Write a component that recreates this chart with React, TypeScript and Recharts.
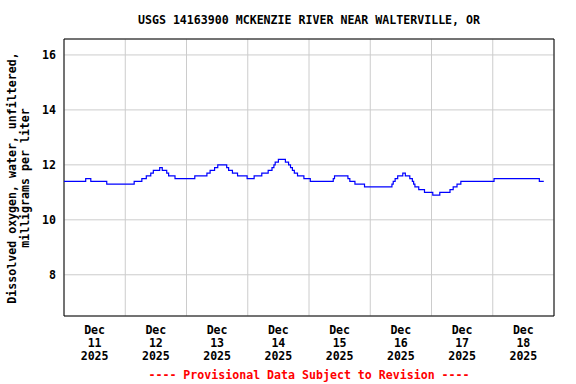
import React from 'react';
import { LineChart, Line, XAxis, YAxis, CartesianGrid, ReferenceArea } from 'recharts';

const TITLE = 'USGS 14163900 MCKENZIE RIVER NEAR WALTERVILLE, OR';
const Y_LABEL_1 = 'Dissolved oxygen, water, unfiltered,';
const Y_LABEL_2 = 'milligrams per liter';
const FOOTER = '---- Provisional Data Subject to Revision ----';

const MONTH = 'Dec';
const YEAR = '2025';
const dayLabels = ['11', '12', '13', '14', '15', '16', '17', '18'];
// hours since Dec 11 00:00
const dayBounds = [0, 24, 48, 72, 96, 120, 144, 168, 192];
const labelTicks = [12, 36, 60, 84, 108, 132, 156, 180];
const xDomain = [0, 192];
const yTicks = [8, 10, 12, 14, 16];
const yDomain = [6.5, 16.58];

// change points of the record (hours since Dec 11 00:00, mg/L)
const hours = [
  0, 8.5, 10.5, 16.75, 27.5, 30.5, 32.25, 34, 35, 37.5, 38.5, 40.25, 41, 43.5,
  51.25, 56, 57.25, 59, 60.25, 63.75, 64.5, 66, 68, 71.75, 74.5, 77.5, 80, 81.5,
  82.25, 82.75, 84, 86.75, 88, 88.75, 89.5, 90.25, 91.5, 94, 96.5, 105.5, 106,
  111.25, 112, 114, 117.75, 128.5, 129, 129.75, 130.75, 132.75, 133.75, 135.5,
  136.5, 137, 137.5, 139, 141.25, 144.5, 147.25, 151.25, 152.5, 154, 155.5,
  168.5, 186.25, 188,
];
const oxygen = [
  11.4, 11.5, 11.4, 11.3, 11.4, 11.5, 11.6, 11.7, 11.8, 11.9, 11.8, 11.7, 11.6, 11.5,
  11.6, 11.7, 11.8, 11.9, 12.0, 11.9, 11.8, 11.7, 11.6, 11.5, 11.6, 11.7, 11.8, 11.9,
  12.0, 12.1, 12.2, 12.1, 12.0, 11.9, 11.8, 11.7, 11.6, 11.5, 11.4, 11.5, 11.6,
  11.5, 11.4, 11.3, 11.2, 11.3, 11.4, 11.5, 11.6, 11.7, 11.6, 11.5,
  11.4, 11.3, 11.2, 11.1, 11.0, 10.9, 11.0, 11.1, 11.2, 11.3, 11.4,
  11.5, 11.4, 11.4,
];

const data = hours.map((t, i) => ({ t, v: oxygen[i] }));

const FONT = '"DejaVu Sans Mono", "Liberation Mono", monospace';
const FS = 11.6;

const XTick = (props: any) => {
  const { x, y, payload } = props;
  const idx = labelTicks.indexOf(payload.value);
  if (idx < 0) return null;
  return (
    <text x={x} y={y} textAnchor="middle" fontFamily={FONT} fontSize={FS} fontWeight="bold" fill="#000">
      <tspan x={x} y={y + 10}>{MONTH}</tspan>
      <tspan x={x} y={y + 23}>{dayLabels[idx]}</tspan>
      <tspan x={x} y={y + 36}>{YEAR}</tspan>
    </text>
  );
};

export default function App() {
  return (
    <div style={{ position: 'absolute', left: 0, top: 0, width: 576, height: 384, background: '#fff' }}>
      <LineChart width={576} height={384} data={data} margin={{ top: 39, right: 22, bottom: 0, left: 0 }}>
        <XAxis xAxisId="days" dataKey="t" type="number" domain={xDomain} ticks={dayBounds} hide allowDataOverflow />
        <CartesianGrid xAxisId="days" stroke="#cccccc" strokeDasharray="" />
        <XAxis
          dataKey="t"
          type="number"
          domain={xDomain}
          ticks={labelTicks}
          interval={0}
          height={68}
          axisLine={false}
          tickLine={false}
          tick={<XTick />}
          allowDataOverflow
        />
        <YAxis
          type="number"
          domain={yDomain}
          ticks={yTicks}
          interval={0}
          width={64}
          axisLine={false}
          tickLine={false}
          allowDataOverflow
          tick={{ fill: '#000', fontSize: FS, fontFamily: FONT, fontWeight: 'bold' }}
        />
        <ReferenceArea x1={xDomain[0]} x2={xDomain[1]} y1={yDomain[0]} y2={yDomain[1]} fill="none" stroke="#000" strokeWidth={1} ifOverflow="visible" />
        <Line type="stepAfter" dataKey="v" stroke="#0000ff" strokeWidth={1.2} dot={false} isAnimationActive={false} />
      </LineChart>
      <svg width={576} height={384} style={{ position: 'absolute', left: 0, top: 0, pointerEvents: 'none' }}>
        <text x={309} y={24} textAnchor="middle" fontFamily={FONT} fontSize={FS} fontWeight="bold" fill="#000">{TITLE}</text>
        <text x={309} y={379} textAnchor="middle" fontFamily={FONT} fontSize={FS} fontWeight="bold" fill="#ff0000">{FOOTER}</text>
        <text transform="translate(16,178) rotate(-90)" textAnchor="middle" fontFamily={FONT} fontSize={FS} fontWeight="bold" fill="#000">{Y_LABEL_1}</text>
        <text transform="translate(29,178) rotate(-90)" textAnchor="middle" fontFamily={FONT} fontSize={FS} fontWeight="bold" fill="#000">{Y_LABEL_2}</text>
      </svg>
    </div>
  );
}
